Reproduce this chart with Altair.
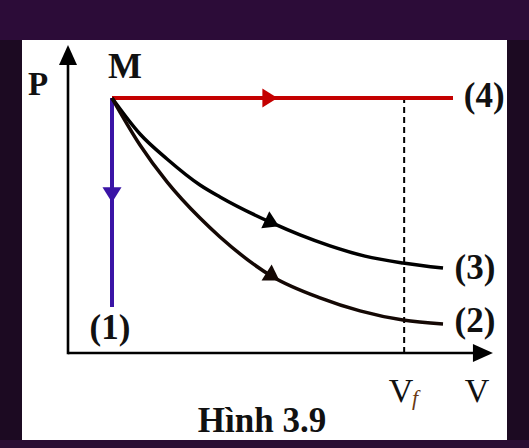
import altair as alt
import pandas as pd

# ---- values (V in units of V_M, P in units of P_M) ----
M_V, M_P = 1.0, 1.0
VF = 7.64                      # dashed line V_f
ISOBAR_END_V = 8.75            # end of red line (4)
ISOCHORE_END_P = 0.18          # end of blue line (1)

curve3_v = [1.0, 1.636, 2.25, 3.0, 3.455, 4.636, 5.273, 5.955, 6.75, 7.614, 8.523]
curve3_p = [1.0, 0.859, 0.761, 0.659, 0.612, 0.510, 0.463, 0.420, 0.380, 0.353, 0.333]
curve2_v = [1.0, 1.636, 2.25, 3.0, 3.455, 4.659, 5.727, 6.636, 7.614, 8.523]
curve2_p = [1.0, 0.816, 0.671, 0.529, 0.455, 0.298, 0.216, 0.165, 0.129, 0.114]

# axis extents
axis_v_end = 9.32
axis_p_end = 1.141

# arrow heads: V, P, angle, kind, colour
arrow_v = [4.59, 1.00, 4.64, 4.66, 0.0, 9.43]
arrow_p = [1.00, 0.62, 0.51, 0.300, 1.169, 0.0]
arrow_angle = [0, 90, 25, 32, 270, 0]
arrow_kind = ["small", "small", "small", "small", "axis", "axis"]
arrow_color = ["#c40000", "#3a14a6", "#000000", "#140804", "#000000", "#000000"]

# labels
bold_text = ["P", "M", "(4)", "(3)", "(2)", "(1)", "Hình 3.9"]
bold_v = [-0.682, 1.295, 9.46, 9.25, 9.25, 0.955, 4.409]
bold_p = [1.012, 1.078, 0.965, 0.290, 0.082, 0.055, -0.310]
bold_size = [33, 36, 35, 35, 35, 35, 35]

reg_text = ["V", "V"]
reg_v = [7.568, 9.295]
reg_p = [-0.192, -0.192]

sub_text = ["f"]
sub_v = [7.886]
sub_p = [-0.204]

# ---- tables ----
curves = pd.DataFrame({
    "V": curve3_v + curve2_v,
    "P": curve3_p + curve2_p,
    "series": ["(3)"] * len(curve3_v) + ["(2)"] * len(curve2_v),
    "color": ["#000000"] * len(curve3_v) + ["#140804"] * len(curve2_v),
    "order": list(range(len(curve3_v))) + list(range(len(curve2_v))),
})

shape_map = {"small": "M0.8,0L-0.8,-1L-0.8,1Z", "axis": "M1,0L-1,-0.9L-1,0.9Z"}
size_map = {"small": 361, "axis": 400}
arrows = pd.DataFrame({
    "V": arrow_v, "P": arrow_p, "angle": arrow_angle,
    "shape": [shape_map[k] for k in arrow_kind],
    "size": [size_map[k] for k in arrow_kind],
    "color": arrow_color,
})

xs = alt.Scale(domain=[-1.0455, 9.9773], nice=False, zero=False)
ys = alt.Scale(domain=[-0.3412, 1.2275], nice=False, zero=False)
X = lambda f="V": alt.X(f"{f}:Q", scale=xs, axis=None)
Y = lambda f="P": alt.Y(f"{f}:Q", scale=ys, axis=None)

band = alt.Chart(pd.DataFrame({"V": [-3.0], "V2": [13.0], "P": [1.2275], "P2": [1.45]})).mark_rect(
    color="#2c0c38"
).encode(x=X(), x2="V2:Q", y=Y(), y2="P2:Q")

axes_h = alt.Chart(pd.DataFrame({"V": [0.0], "V2": [axis_v_end], "P": [0.0]})).mark_rule(
    color="black", strokeWidth=2.6
).encode(x=X(), x2="V2:Q", y=Y())
axes_v = alt.Chart(pd.DataFrame({"V": [0.0], "P": [-0.005], "P2": [axis_p_end]})).mark_rule(
    color="black", strokeWidth=2.6
).encode(x=X(), y=Y(), y2="P2:Q")

dashed = alt.Chart(pd.DataFrame({"V": [VF], "P": [0.0], "P2": [M_P]})).mark_rule(
    color="black", strokeWidth=2, strokeDash=[6, 4]
).encode(x=X(), y=Y(), y2="P2:Q")

red = alt.Chart(pd.DataFrame({"V": [M_V], "V2": [ISOBAR_END_V], "P": [M_P]})).mark_rule(
    color="#c40000", strokeWidth=4
).encode(x=X(), x2="V2:Q", y=Y())

blue = alt.Chart(pd.DataFrame({"V": [M_V], "P": [ISOCHORE_END_P], "P2": [M_P]})).mark_rule(
    color="#3a14a6", strokeWidth=4
).encode(x=X(), y=Y(), y2="P2:Q")

lines = alt.Chart(curves).mark_line(interpolate="monotone", strokeWidth=3.5).encode(
    x=X(), y=Y(), detail="series:N", order="order:Q",
    color=alt.Color("color:N", scale=None),
)

heads = alt.Chart(arrows).mark_point(filled=True, opacity=1, strokeWidth=0).encode(
    x=X(), y=Y(),
    shape=alt.Shape("shape:N", scale=None),
    size=alt.Size("size:Q", scale=None),
    angle=alt.Angle("angle:Q", scale=None),
    color=alt.Color("color:N", scale=None),
)

t_bold = alt.Chart(pd.DataFrame({"t": bold_text, "V": bold_v, "P": bold_p, "s": bold_size})).mark_text(
    font="Liberation Serif", fontWeight="bold", align="center", baseline="alphabetic", color="#111111"
).encode(x=X(), y=Y(), text="t:N", size=alt.Size("s:Q", scale=None))

t_reg = alt.Chart(pd.DataFrame({"t": reg_text, "V": reg_v, "P": reg_p})).mark_text(
    font="Liberation Serif", fontSize=34, align="center", baseline="alphabetic", color="#111111"
).encode(x=X(), y=Y(), text="t:N")

t_sub = alt.Chart(pd.DataFrame({"t": sub_text, "V": sub_v, "P": sub_p})).mark_text(
    font="Liberation Serif", fontSize=22, fontStyle="italic", align="center", baseline="alphabetic",
    color="#6b3a12"
).encode(x=X(), y=Y(), text="t:N")

chart = alt.layer(
    band, dashed, axes_h, axes_v, red, blue, lines, heads, t_bold, t_reg, t_sub
).properties(
    width=485, height=400,
    autosize="none",
    padding={"left": 14, "top": 32, "right": 14, "bottom": 0},
    background="#1c0a22",
).configure_view(stroke=None, fill="white")

chart.save("out.html", embed_options={"renderer": "svg", "actions": False})

# page margin colour to match the dark frame
with open("out.html", encoding="utf-8") as fh:
    html = fh.read()
style = ("<style>body{background:linear-gradient(#2c0c38 0px,#2c0c38 40px,#1c0a22 40px,"
         "#1c0a22 440px,#2a0d32 440px);}</style>")
if "<head>" in html:
    html = html.replace("<head>", "<head>" + style, 1)
else:
    html = style + html
with open("out.html", "w", encoding="utf-8") as fh:
    fh.write(html)
